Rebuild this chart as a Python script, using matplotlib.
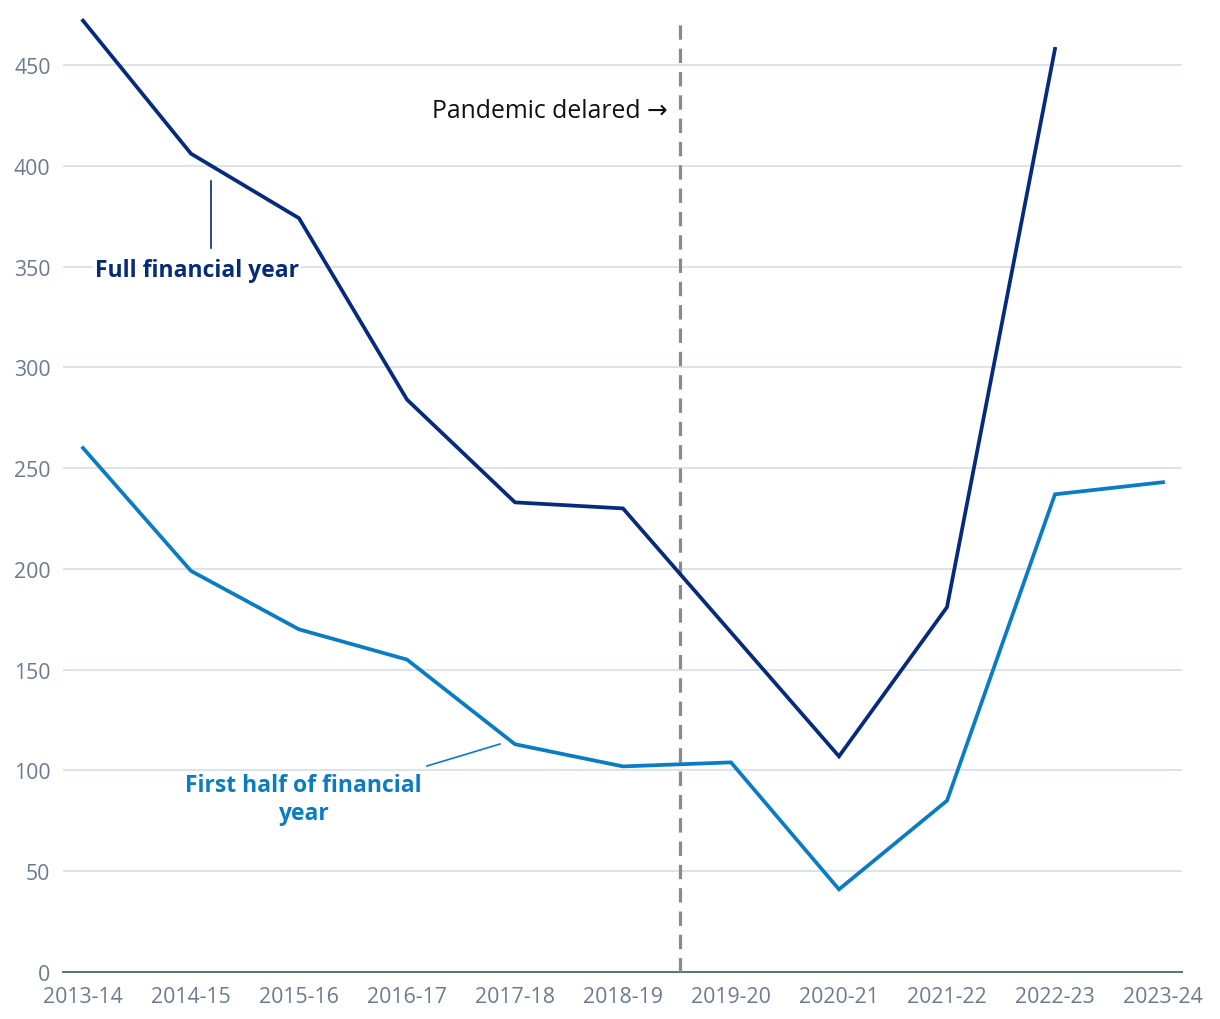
import numpy as np
import matplotlib
matplotlib.use("Agg")
import matplotlib.pyplot as plt

plt.rcParams['font.family'] = ['Open Sans', 'DejaVu Sans']

years = ["2013-14", "2014-15", "2015-16", "2016-17", "2017-18", "2018-19",
         "2019-20", "2020-21", "2021-22", "2022-23", "2023-24"]
full_year = [472, 406, 374, 284, 233, 230, None, 107, 181, 458, None]
first_half = [260, 199, 170, 155, 113, 102, 104, 41, 85, 237, 243]
yticks = [0, 50, 100, 150, 200, 250, 300, 350, 400, 450]

NAVY = "#062b7d"
BLUE = "#0a7cc4"
TICK = "#6b7a90"
GRID = "#d5dbe5"

fig = plt.figure(figsize=(12.2, 10.2), dpi=100)
ax = fig.add_axes([63/1220, 1-973/1020, (1182-63)/1220, (973-15.6)/1020])

xs = np.arange(len(years))
fx = [i for i, v in enumerate(full_year) if v is not None]
fy = [v for v in full_year if v is not None]
ax.plot(fx, fy, color=NAVY, lw=2.7, solid_joinstyle='miter', zorder=4)
ax.plot(xs, first_half, color=BLUE, lw=2.7, solid_joinstyle='miter', zorder=4)

ax.set_xlim(-0.185, 10.176)
ax.set_ylim(0, 475)
ax.set_yticks(yticks)
ax.set_xticks(xs)
ax.set_xticklabels(years)
ax.grid(axis='y', color=GRID, lw=1.1, zorder=0)
ax.set_axisbelow(True)
for s in ['top', 'right', 'left']:
    ax.spines[s].set_visible(False)
ax.spines['bottom'].set_color("#5d6d84")
ax.spines['bottom'].set_linewidth(1.4)
ax.tick_params(axis='both', length=0, labelsize=15.3, labelcolor=TICK)
ax.tick_params(axis='y', pad=9)
ax.tick_params(axis='x', pad=10)

# pandemic line
ax.vlines(5.53, 0, 471, colors="#8a8a8a", lw=2.3, linestyles=(0, (4.5, 2.8)), zorder=3)
ax.text(5.417, 427.5, "Pandemic delared \u2192", ha='right', va='center',
        fontsize=17.8, color="#111111")

# labels
ax.plot([1.185, 1.185], [392.4, 359.2], color=NAVY, lw=1.2, zorder=5)
ax.text(1.056, 348.3, "Full financial year", ha='center', va='center',
        fontsize=16.5, fontweight='bold', color=NAVY, zorder=6,
        bbox=dict(facecolor='white', edgecolor='none', pad=1.5))
ax.plot([3.185, 3.861], [102.2, 113.1], color=BLUE, lw=1.2, zorder=5)
ax.text(2.037, 85.8, "First half of financial\nyear", ha='center', va='center',
        fontsize=16.5, fontweight='bold', color=BLUE, zorder=6, linespacing=1.2,
        bbox=dict(facecolor='white', edgecolor='none', pad=1.5))

fig.savefig("out.png", dpi=100)
